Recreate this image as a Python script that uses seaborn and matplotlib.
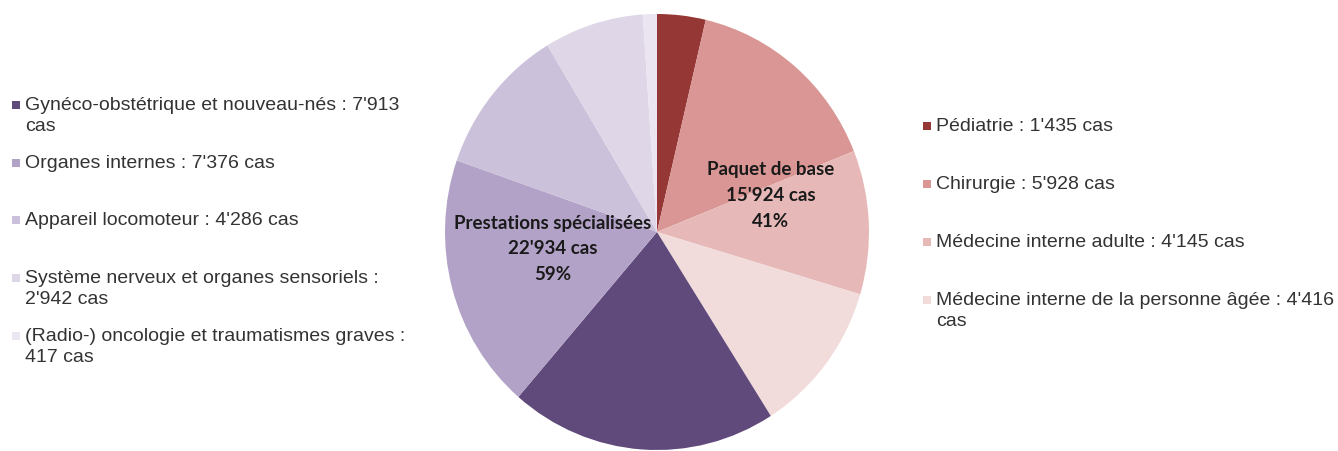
import matplotlib
matplotlib.use("Agg")
import matplotlib.pyplot as plt
from matplotlib.patches import Rectangle
import seaborn as sns

sns.set_theme(style="white")
plt.rcParams["font.family"] = ["Liberation Sans", "DejaVu Sans"]

# Cases per service group, clockwise from 12 o'clock
base_labels = ["Pédiatrie", "Chirurgie", "Médecine interne adulte",
               "Médecine interne de la personne âgée"]
base_values = [1435, 5928, 4145, 4416]
base_colors = ["#953735", "#D99694", "#E6B9B8", "#F2DCDB"]

spec_labels = ["Gynéco-obstétrique et nouveau-nés", "Organes internes",
               "Appareil locomoteur", "Système nerveux et organes sensoriels",
               "(Radio-) oncologie et traumatismes graves"]
spec_values = [7913, 7376, 4286, 2942, 417]
spec_colors = ["#604A7B", "#B3A2C7", "#CCC1DA", "#DFD7E8", "#EAE5F0"]

group_names = ["Paquet de base", "Prestations spécialisées"]

# Where each legend entry wraps: None, "unit" (before "cas") or "value"
spec_wrap = ["unit", None, None, "value", "value"]
base_wrap = [None, None, None, "unit"]


def fmt(n):
    return f"{n:,}".replace(",", "'")


def entry_text(label, value, wrap):
    if wrap == "unit":
        return f"{label} : {fmt(value)}\ncas"
    if wrap == "value":
        return f"{label} :\n{fmt(value)} cas"
    return f"{label} : {fmt(value)} cas"


W, H = 1338, 452
fig = plt.figure(figsize=(W / 100, H / 100), dpi=100)

# Pie axes box in figure pixels
px0, py_top, pw, ph = 445, 15, 424, 436
ax = fig.add_axes([px0 / W, (H - py_top - ph) / H, pw / W, ph / H])

values = base_values + spec_values
colors = base_colors + spec_colors
wedges, _ = ax.pie(values, colors=colors, startangle=90, counterclock=False,
                   radius=1, wedgeprops=dict(linewidth=0))
ax.set_xlim(-1, 1)
ax.set_ylim(-1, 1)
ax.set_aspect("auto")
ax.axis("off")

total = sum(values)
tb, ts = sum(base_values), sum(spec_values)
label_font = dict(family=["Lato", "DejaVu Sans"], fontweight="bold",
                  fontsize=13.5, color="#1a1a1a", ha="center", va="center",
                  linespacing=1.62)
ax.text(0.535, 0.172,
        f"{group_names[0]}\n{fmt(tb)} cas\n{round(100 * tb / total)}%",
        **label_font)
ax.text(-0.49, -0.072,
        f"{group_names[1]}\n{fmt(ts)} cas\n{round(100 * ts / total)}%",
        **label_font)


def legend_column(labels, vals, cols, wraps, x_box, x_text, y_rows):
    # y_rows: vertical centre of each entry's first line, pixels from top
    for lab, v, c, wr, y in zip(labels, vals, cols, wraps, y_rows):
        fig.add_artist(Rectangle((x_box / W, (H - y - 4) / H), 8 / W, 8 / H,
                                 transform=fig.transFigure,
                                 facecolor=c, edgecolor="none"))
        fig.text(x_text / W, (H - y + 9) / H, entry_text(lab, v, wr),
                 fontsize=14, color="#333333", ha="left", va="top",
                 linespacing=1.3)


legend_column(spec_labels, spec_values, spec_colors, spec_wrap,
              12, 25, [106, 164, 221, 279, 337])
legend_column(base_labels, base_values, base_colors, base_wrap,
              923, 936, [127, 185, 243, 301])

fig.savefig("out.png", dpi=100, facecolor="white")
